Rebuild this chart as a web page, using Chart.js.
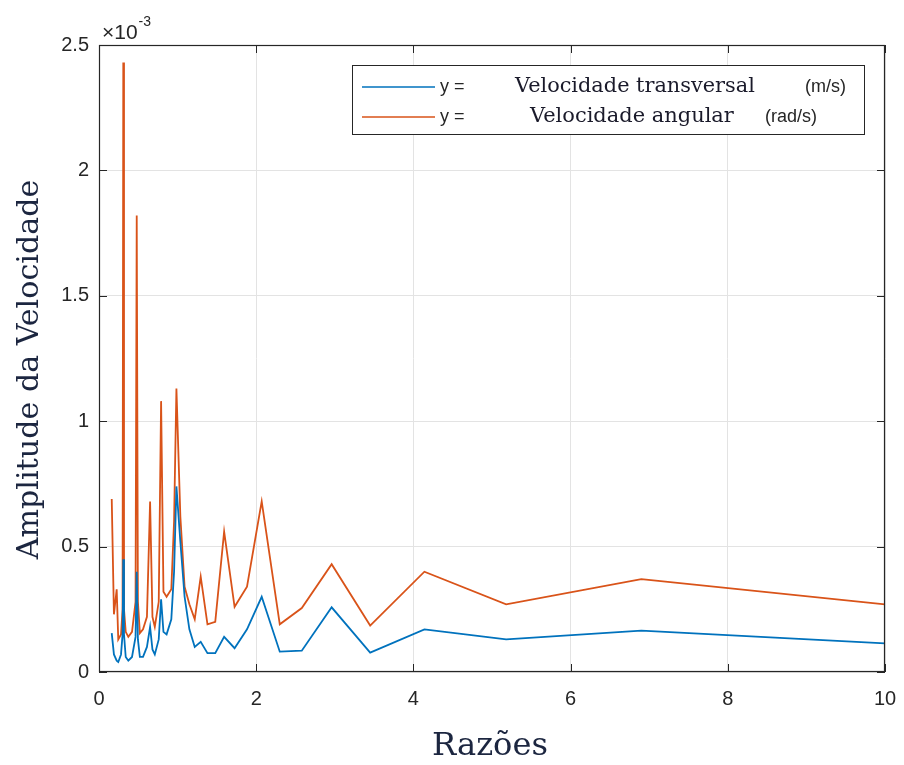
<!DOCTYPE html>
<html><head><meta charset="utf-8">
<script src="https://cdn.jsdelivr.net/npm/chart.js@4/dist/chart.umd.min.js"></script>
<style>html,body{margin:0;padding:0;background:#fff;} #wrap{width:904px;height:765px;}</style>
</head><body><div id="wrap"><canvas id="c" width="904" height="765"></canvas></div>
<script>
// ---- data (amplitudes in units of 10^-3) ----
const ratios = [0.162, 0.19, 0.225, 0.245, 0.28, 0.300, 0.309, 0.318, 0.34, 0.373,
  0.42, 0.465, 0.48, 0.495, 0.52, 0.56, 0.61, 0.65, 0.68, 0.71,
  0.76, 0.79, 0.82, 0.86, 0.92, 0.955, 0.985, 1.035, 1.089, 1.150,
  1.218, 1.294, 1.380, 1.479, 1.592, 1.725, 1.883, 2.07, 2.30, 2.58,
  2.96, 3.45, 4.14, 5.18, 6.90, 10.0];
const transversal = [0.155, 0.07, 0.045, 0.04, 0.07, 0.15, 0.45, 0.15, 0.06, 0.045,
  0.06, 0.14, 0.40, 0.13, 0.06, 0.06, 0.10, 0.18, 0.09, 0.07,
  0.13, 0.29, 0.16, 0.15, 0.21, 0.40, 0.74, 0.52, 0.30, 0.17,
  0.10, 0.12, 0.075, 0.075, 0.14, 0.095, 0.17, 0.30, 0.081, 0.085,
  0.258, 0.077, 0.17, 0.13, 0.165, 0.114];
const angular = [0.69, 0.23, 0.33, 0.13, 0.15, 0.25, 2.43, 0.25, 0.16, 0.14,
  0.16, 0.28, 1.82, 0.28, 0.155, 0.17, 0.22, 0.68, 0.22, 0.18,
  0.28, 1.08, 0.32, 0.30, 0.33, 0.60, 1.13, 0.62, 0.34, 0.27,
  0.21, 0.38, 0.19, 0.20, 0.56, 0.26, 0.34, 0.68, 0.19, 0.255,
  0.43, 0.185, 0.40, 0.27, 0.37, 0.27];
const xTicks = [0, 2, 4, 6, 8, 10];
const yTicks = [0, 0.5, 1, 1.5, 2, 2.5];
const yExponent = '-3';
const seriesNames = ['Velocidade transversal', 'Velocidade angular'];
const seriesUnits = ['(m/s)', '(rad/s)'];
const xTitle = 'Razões';
const yTitle = 'Amplitude da Velocidade';

const BLUE = '#0072BD', ORANGE = '#D95319', AX = '#262626', TITLE = '#1c2640';
const SANS = '"Liberation Sans", Arial, sans-serif';
const SERIF = '"DejaVu Serif", serif';

function fitFont(ctx, text, family, width) {
  ctx.font = '100px ' + family;
  return 100 * width / ctx.measureText(text).width;
}

const decor = {
  id: 'decor',
  afterDatasetsDraw(chart) {
    const ctx = chart.ctx, a = chart.chartArea;
    const xs = chart.scales.x, ys = chart.scales.y;
    ctx.save();
    // box
    ctx.strokeStyle = AX; ctx.lineWidth = 1.2;
    ctx.strokeRect(a.left + 0.5, a.top + 0.5, a.right - a.left - 1, a.bottom - a.top - 1);
    // inner ticks
    ctx.lineWidth = 1;
    xTicks.forEach(v => {
      const p = Math.round(xs.getPixelForValue(v)) + 0.5;
      ctx.beginPath(); ctx.moveTo(p, a.bottom); ctx.lineTo(p, a.bottom - 8);
      ctx.moveTo(p, a.top); ctx.lineTo(p, a.top + 8); ctx.stroke();
    });
    yTicks.forEach(v => {
      const p = Math.round(ys.getPixelForValue(v)) + 0.5;
      ctx.beginPath(); ctx.moveTo(a.left, p); ctx.lineTo(a.left + 8, p);
      ctx.moveTo(a.right, p); ctx.lineTo(a.right - 8, p); ctx.stroke();
    });
    // exponent
    ctx.fillStyle = AX; ctx.textBaseline = 'alphabetic'; ctx.textAlign = 'left';
    ctx.font = '21px ' + SANS;
    ctx.fillText('\u00d710', a.left + 3, a.top - 6);
    const w10 = ctx.measureText('\u00d710').width;
    ctx.font = '14px ' + SANS;
    ctx.fillText(yExponent, a.left + 4 + w10, a.top - 19);
    // axis titles
    ctx.fillStyle = TITLE;
    let fs = fitFont(ctx, xTitle, SERIF, 116);
    ctx.font = fs + 'px ' + SERIF; ctx.textAlign = 'center';
    ctx.fillText(xTitle, 490, 755);
    fs = fitFont(ctx, yTitle, SERIF, 380);
    ctx.save();
    ctx.translate(38, (a.top + a.bottom) / 2 + 11);
    ctx.rotate(-Math.PI / 2);
    ctx.font = fs + 'px ' + SERIF;
    ctx.fillText(yTitle, 0, 0);
    ctx.restore();
    // legend
    const L = 352, T = 65, R = 864, B = 134;
    ctx.fillStyle = '#fff'; ctx.fillRect(L, T, R - L, B - T);
    ctx.strokeStyle = AX; ctx.lineWidth = 1;
    ctx.strokeRect(L + 0.5, T + 0.5, R - L, B - T);
    const rows = [87, 117], cols = [BLUE, ORANGE];
    const nameX = [515, 530], nameW = [240, 204], unitX = [805, 765];
    rows.forEach((yy, i) => {
      ctx.strokeStyle = cols[i]; ctx.lineWidth = 1.6;
      ctx.beginPath(); ctx.moveTo(362, yy); ctx.lineTo(435, yy); ctx.stroke();
      ctx.fillStyle = AX; ctx.textAlign = 'left'; ctx.textBaseline = 'middle';
      ctx.font = '18px ' + SANS;
      ctx.fillText('y =', 440, yy);
      ctx.fillText(seriesUnits[i], unitX[i], yy);
      ctx.fillStyle = '#1a1a2a';
      const f = fitFont(ctx, seriesNames[i], SERIF, nameW[i]);
      ctx.font = f + 'px ' + SERIF;
      ctx.fillText(seriesNames[i], nameX[i], yy);
    });
    ctx.restore();
  }
};

const mk = (ys) => ratios.map((x, i) => ({x, y: ys[i]}));

new Chart(document.getElementById('c'), {
  type: 'line',
  data: {
    datasets: [
      {label: seriesNames[0], data: mk(transversal), borderColor: BLUE, borderWidth: 1.8, pointRadius: 0, tension: 0, fill: false},
      {label: seriesNames[1], data: mk(angular), borderColor: ORANGE, borderWidth: 1.8, pointRadius: 0, tension: 0, fill: false}
    ]
  },
  options: {
    responsive: false, animation: false, devicePixelRatio: 1,
    layout: {padding: {left: 0, top: 45, right: 19, bottom: 0}},
    plugins: {legend: {display: false}, tooltip: {enabled: false}},
    scales: {
      x: {
        type: 'linear', min: 0, max: 10,
        afterBuildTicks: s => { s.ticks = xTicks.map(v => ({value: v})); },
        afterFit: s => { s.height = 93; s.paddingRight = 0; s.paddingLeft = 0; },
        ticks: {color: AX, font: {family: SANS, size: 20}, padding: 15, maxRotation: 0,
                callback: v => String(v)},
        grid: {color: '#e3e3e3', lineWidth: 1, drawTicks: false},
        border: {display: false}
      },
      y: {
        type: 'linear', min: 0, max: 2.5,
        afterBuildTicks: s => { s.ticks = yTicks.map(v => ({value: v})); },
        afterFit: s => { s.width = 99; s.paddingTop = 0; s.paddingBottom = 0; },
        ticks: {color: AX, font: {family: SANS, size: 20}, padding: 10,
                callback: v => String(v)},
        grid: {color: '#e3e3e3', lineWidth: 1, drawTicks: false},
        border: {display: false}
      }
    }
  },
  plugins: [decor]
});
</script></body></html>
